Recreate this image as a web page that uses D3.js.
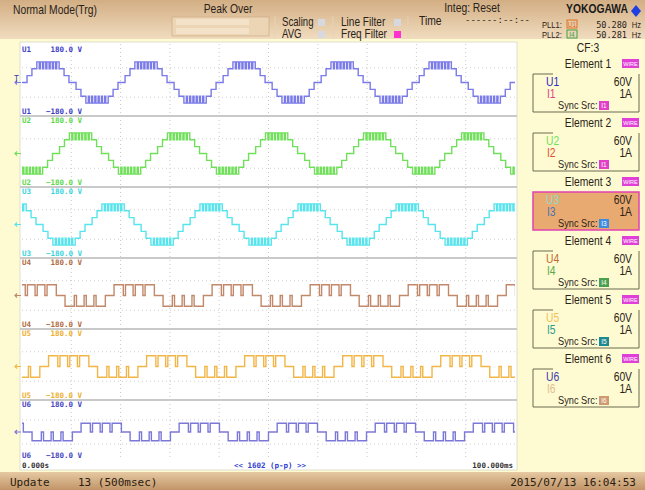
<!DOCTYPE html>
<html>
<head>
<meta charset="utf-8">
<title>Normal Mode(Trg)</title>
<script src="https://cdn.jsdelivr.net/npm/d3@7"></script>
<style>
  body { margin: 0; background: #fff; }
  svg { display: block; }
  .cond { font-family: "Liberation Sans", Arial, sans-serif; }
  .mono { font-family: "DejaVu Sans Mono", "Liberation Mono", monospace; }
</style>
</head>
<body>
<svg width="645" height="490"></svg>
<script>
// ---- data ----
var channels = ["U1", "U2", "U3", "U4", "U5", "U6"];
var waveColors = ["#7a7ae8", "#70e05a", "#58e4ec", "#c2886a", "#f2b648", "#7c78d8"];
var labelColors = ["#3a3ac8", "#5cd84a", "#38d4de", "#b06a3c", "#eeae2c", "#4444c0"];
var scaleTop = [180, 180, 180, 180, 180, 180];     // V
var scaleBottom = [-180, -180, -180, -180, -180, -180];
var phaseMs = [0.3, 6.9, 13.5, -2.1, 4.5, 11.1];   // start of positive half cycle
var waveType = ["A", "A", "A", "B", "B", "B"];
var freqHz = 50.28;
var timeSpan = [0, 100];                          // ms

// 7-level staircase with PWM on the crest: [angle deg, level], positive half cycle
var stairHalf = [[0, 0], [13, 1], [31, 2], [49, 3], [58, 2], [62, 3], [70, 2], [74, 3],
  [82, 2], [86, 3], [94, 2], [98, 3], [106, 2], [110, 3], [118, 2], [122, 3],
  [131, 2], [149, 1], [167, 0]];
var stairStepV = 42;
// 3-level pulse pattern with notches: [angle deg, level], positive half cycle
var pulseHalf = [[0, 0], [16, 1], [50, 0], [58, 1], [86, 0], [94, 1], [122, 0], [130, 1], [164, 0]];
var pulseStepV = 66;

var elemU = ["U1", "U2", "U3", "U4", "U5", "U6"];
var elemI = ["I1", "I2", "I3", "I4", "I5", "I6"];
var elemURange = ["60V", "60V", "60V", "60V", "60V", "60V"];
var elemIRange = ["1A", "1A", "1A", "1A", "1A", "1A"];
var elemSync = ["I1", "I1", "I3", "I4", "I5", "I6"];
var elemUColors = ["#2c2cc0", "#70e060", "#86dccc", "#c06a30", "#f2c060", "#3c3cb0"];
var elemIColors = ["#e0408c", "#e05030", "#4a74b0", "#5aaa4a", "#2a9c8a", "#e0c090"];
var elemSyncColors = ["#e040c8", "#e040c8", "#3c8ce0", "#4aa050", "#1c8890", "#d09a70"];
var selectedElem = 2;

var pll = [["PLL1:", "U1", "#e07020", "50.280"], ["PLL2:", "I4", "#40a040", "50.281"]];

var svg = d3.select("svg");
var defs = svg.append("defs");

// condensed-looking text (the instrument font is narrow)
function ctext(parent, x, y, str, size, anchor, fill, sx) {
  return parent.append("text")
    .attr("transform", "translate(" + x + "," + y + ") scale(" + (sx || 0.86) + ",1)")
    .attr("font-size", size)
    .attr("text-anchor", anchor || "start")
    .attr("fill", fill || "#2a2218")
    .text(str);
}

// ---- backgrounds ----
var hdr = defs.append("linearGradient").attr("id", "hdr").attr("x1", 0).attr("y1", 0).attr("x2", 0).attr("y2", 1);
hdr.append("stop").attr("offset", "0%").attr("stop-color", "#d3ae84");
hdr.append("stop").attr("offset", "100%").attr("stop-color", "#f0dcbe");
var ftr = defs.append("linearGradient").attr("id", "ftr").attr("x1", 0).attr("y1", 0).attr("x2", 0).attr("y2", 1);
ftr.append("stop").attr("offset", "0%").attr("stop-color", "#e6c9a2");
ftr.append("stop").attr("offset", "100%").attr("stop-color", "#c19468");

svg.append("rect").attr("x", 0).attr("y", 0).attr("width", 645).attr("height", 490).attr("fill", "#fefbd2");
svg.append("rect").attr("x", 0).attr("y", 0).attr("width", 645).attr("height", 39).attr("fill", "url(#hdr)");
svg.append("rect").attr("x", 0).attr("y", 472).attr("width", 645).attr("height", 18).attr("fill", "url(#ftr)");
svg.append("rect").attr("x", 20).attr("y", 42).attr("width", 497).attr("height", 428).attr("fill", "#fff")
  .attr("stroke", "#d8d8c8").attr("stroke-width", 0.8);

// ---- header ----
var head = svg.append("g").attr("class", "cond");
ctext(head, 13, 14, "Normal Mode(Trg)", 12);
ctext(head, 228, 13, "Peak Over", 12, "middle");
head.append("rect").attr("x", 172).attr("y", 17).attr("width", 97).attr("height", 19)
  .attr("fill", "#ecd5b4").attr("stroke", "#c8a67e").attr("stroke-width", 0.6);
head.append("rect").attr("x", 176).attr("y", 19).attr("width", 73).attr("height", 6).attr("fill", "#f3e2c8");
head.append("rect").attr("x", 176).attr("y", 28).attr("width", 73).attr("height", 6).attr("fill", "#f3e2c8");
ctext(head, 282, 26, "Scaling", 12, "start", null, 0.8);
ctext(head, 282, 38, "AVG", 12, "start", null, 0.8);
ctext(head, 341, 26, "Line Filter", 12, "start", null, 0.84);
ctext(head, 341, 38, "Freq Filter", 12, "start", null, 0.84);
[[318, 19, "#d8d8e0"], [318, 31, "#d8d8e0"], [394, 19, "#d8d8e0"], [394, 31, "#ff30d0"]].forEach(function (s) {
  head.append("rect").attr("x", s[0]).attr("y", s[1]).attr("width", 7).attr("height", 7).attr("fill", s[2]);
});
ctext(head, 472, 12, "Integ: Reset", 12, "middle");
ctext(head, 419, 25, "Time", 12);
head.append("text").attr("x", 530).attr("y", 23).attr("font-size", 9).attr("text-anchor", "end")
  .attr("class", "mono").attr("fill", "#2a2218").text("------:--:--");
[275, 333, 408].forEach(function (x) {
  head.append("line").attr("x1", x).attr("x2", x).attr("y1", 16).attr("y2", 38).attr("stroke", "#e8d2b2").attr("stroke-width", 1);
});
ctext(head, 628, 13, "YOKOGAWA", 12, "end", "#1a1a1a").attr("font-weight", "bold");
head.append("path").attr("d", "M636,5 L641,11 L636,17 L631,11 Z").attr("fill", "#1f3fe0");
pll.forEach(function (p, i) {
  var y = 28 + i * 10;
  ctext(head, 542, y, p[0], 9.5, "start", null, 0.8);
  head.append("rect").attr("x", 567).attr("y", y - 8).attr("width", 10).attr("height", 8)
    .attr("fill", "none").attr("stroke", p[2]).attr("stroke-width", 1);
  head.append("text").attr("x", 572).attr("y", y - 1.5).attr("font-size", 6.5).attr("text-anchor", "middle")
    .attr("fill", p[2]).text(p[1]);
  ctext(head, 627, y, p[3], 9.5, "end", null, 0.9).attr("class", "mono");
  ctext(head, 641, y, "Hz", 9.5, "end", null, 0.8);
});

// ---- waveforms ----
var x = d3.scaleLinear().domain(timeSpan).range([22, 515]);
var panelH = 71, panelTop0 = 45, plotBottom = 460;

defs.append("clipPath").attr("id", "plotClip").append("rect")
  .attr("x", 22).attr("y", 42).attr("width", 493).attr("height", 428);

// vertical dotted grid
var grid = svg.append("g");
grid.selectAll("line.v").data(d3.range(1, 10)).enter().append("line")
  .attr("x1", function (d) { return x(d * 10); }).attr("x2", function (d) { return x(d * 10); })
  .attr("y1", 44).attr("y2", 460)
  .attr("stroke", "#c8c8c8").attr("stroke-width", 1).attr("stroke-dasharray", "1,3");

function buildWave(half, stepV, phase) {
  var T = 1000 / freqHz;
  var pts = [];
  for (var k = -2; k < 8; k++) {
    var t0 = phase + k * T;
    half.forEach(function (p) { pts.push({ t: t0 + p[0] / 360 * T, v: p[1] * stepV }); });
    half.forEach(function (p) { pts.push({ t: t0 + T / 2 + p[0] / 360 * T, v: -p[1] * stepV }); });
  }
  return pts;
}

channels.forEach(function (ch, i) {
  var top = panelTop0 + panelH * i;
  var bottom = Math.min(top + panelH, plotBottom);
  var y = d3.scaleLinear().domain([scaleBottom[i], scaleTop[i]]).range([bottom - 4, top + 8]);
  var g = svg.append("g");

  // panel separator
  if (i > 0) {
    g.append("line").attr("x1", 20).attr("x2", 517).attr("y1", top).attr("y2", top)
      .attr("stroke", "#c9c9c9").attr("stroke-width", 2);
  }
  // horizontal dotted grid
  g.selectAll("line.h").data([-90, 90]).enter().append("line")
    .attr("x1", 22).attr("x2", 515)
    .attr("y1", function (d) { return y(d); }).attr("y2", function (d) { return y(d); })
    .attr("stroke", "#cfcfcf").attr("stroke-width", 1).attr("stroke-dasharray", "1,3");

  var pts = waveType[i] === "A" ? buildWave(stairHalf, stairStepV, phaseMs[i])
                                : buildWave(pulseHalf, pulseStepV, phaseMs[i]);
  var line = d3.line()
    .x(function (d) { return x(d.t); })
    .y(function (d) { return y(d.v); })
    .curve(d3.curveStepAfter);
  g.append("path").datum(pts).attr("d", line).attr("clip-path", "url(#plotClip)")
    .attr("fill", "none").attr("stroke", waveColors[i]).attr("stroke-width", 1.4);

  // scale labels
  var lab = g.append("g").attr("class", "mono").attr("font-size", 7.5).attr("font-weight", "bold")
    .attr("fill", labelColors[i]);
  lab.append("text").attr("x", 22).attr("y", top + 7).text(ch);
  lab.append("text").attr("x", 82).attr("y", top + 7).attr("text-anchor", "end").text(d3.format(".1f")(scaleTop[i]) + " V");
  lab.append("text").attr("x", 22).attr("y", bottom - 2).text(ch);
  lab.append("text").attr("x", 82).attr("y", bottom - 2).attr("text-anchor", "end").text(d3.format(".1f")(scaleBottom[i]) + " V");

  // zero marker
  var zy = y(0);
  g.append("path").attr("d", "M21," + zy + " L15," + zy + " M17," + (zy - 2) + " L15," + zy + " L17," + (zy + 2))
    .attr("fill", "none").attr("stroke", waveColors[i]).attr("stroke-width", 1.2);
  if (i === 0) {
    g.append("text").attr("x", 14).attr("y", zy - 1).attr("font-size", 8).attr("fill", "#4040b0")
      .attr("class", "mono").text("T");
  }
});

// time axis labels
var tl = svg.append("g").attr("class", "mono").attr("font-size", 7.5).attr("font-weight", "bold");
tl.append("text").attr("x", 22).attr("y", 468).attr("fill", "#303030").text("0.000s");
tl.append("text").attr("x", 513).attr("y", 468).attr("text-anchor", "end").attr("fill", "#303030").text("100.000ms");
tl.append("text").attr("x", 270).attr("y", 468).attr("text-anchor", "middle").attr("fill", "#3040d0").text("<< 1602 (p-p) >>");

// ---- right panel: elements ----
var rp = svg.append("g").attr("class", "cond");
ctext(rp, 588, 52, "CF:3", 12, "middle");
elemU.forEach(function (u, i) {
  var ty = 68 + i * 59;
  var by = ty + 6;
  var sel = i === selectedElem;
  var e = rp.append("g");
  ctext(e, 588, ty, "Element " + (i + 1), 12, "middle");
  e.append("rect").attr("x", 622).attr("y", ty - 9).attr("width", 17).attr("height", 9).attr("fill", "#e040d8");
  e.append("text").attr("x", 630.5).attr("y", ty - 2.5).attr("font-size", 5.5).attr("text-anchor", "middle")
    .attr("fill", "#fff").text("WIRE");
  if (sel) {
    e.append("rect").attr("x", 533).attr("y", by).attr("width", 106).attr("height", 38)
      .attr("fill", "#e9aa72").attr("stroke", "#e040b0").attr("stroke-width", 1.5);
  } else {
    e.append("path").attr("d", "M553," + by + " L533," + by + " L533," + (by + 38) + " L639," + (by + 38) + " L639," + by)
      .attr("fill", "none").attr("stroke", "#6a6a50").attr("stroke-width", 1);
  }
  ctext(e, 546, by + 12, u, 12, "start", elemUColors[i]);
  ctext(e, 632, by + 12, elemURange[i], 12, "end");
  ctext(e, 547, by + 24, elemI[i], 12, "start", elemIColors[i]);
  ctext(e, 632, by + 24, elemIRange[i], 12, "end");
  ctext(e, 558, by + 35, "Sync Src:", 11, "start", null, 0.84);
  e.append("rect").attr("x", 599).attr("y", by + 27).attr("width", 10).attr("height", 9).attr("fill", elemSyncColors[i]);
  e.append("text").attr("x", 604).attr("y", by + 34).attr("font-size", 6.5).attr("text-anchor", "middle")
    .attr("fill", "#fff").text(elemSync[i]);
});

// ---- footer ----
var ft = svg.append("g").attr("class", "mono").attr("font-size", 11).attr("fill", "#2a2010");
ft.append("text").attr("x", 10).attr("y", 486).text("Update");
ft.append("text").attr("x", 78).attr("y", 486).text("13 (500msec)");
ft.append("text").attr("x", 636).attr("y", 486).attr("text-anchor", "end").text("2015/07/13 16:04:53");
</script>
</body>
</html>
